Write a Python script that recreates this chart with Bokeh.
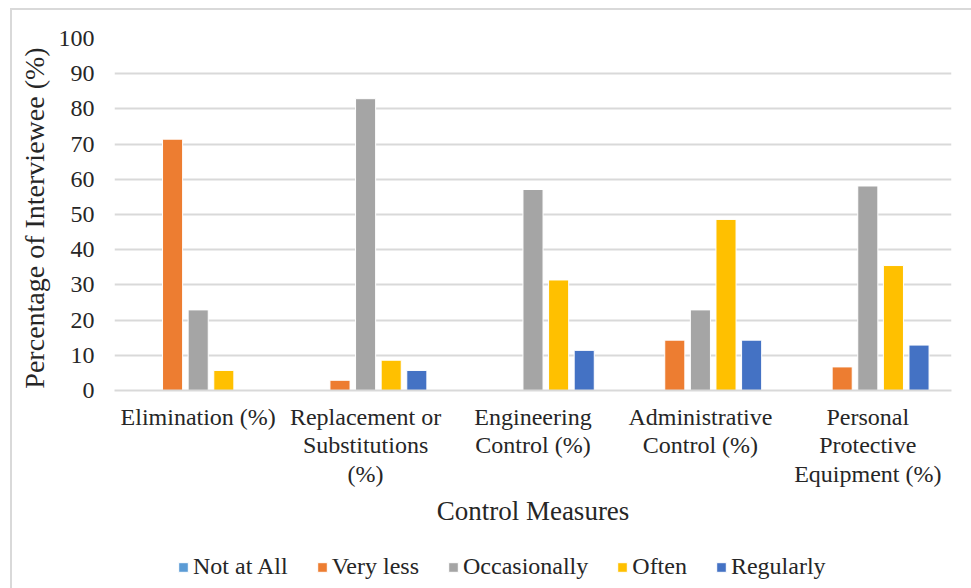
from bokeh.plotting import figure
from bokeh.layouts import column
from bokeh.models import Range1d, FactorRange, Legend, LegendItem, FixedTicker, ColumnDataSource
from bokeh.transform import dodge
from bokeh.embed import file_html
from bokeh.resources import INLINE

categories = ["Elimination (%)", "Replacement or\nSubstitutions\n(%)", "Engineering\nControl (%)",
              "Administrative\nControl (%)", "Personal\nProtective\nEquipment (%)"]
series_names = ["Not at All", "Very less", "Occasionally", "Often", "Regularly"]
not_at_all = [0, 0, 0, 0, 0]
very_less = [71.4, 2.9, 0, 14.3, 6.7]
occasionally = [22.9, 82.9, 57.1, 22.9, 58.1]
often = [5.7, 8.6, 31.4, 48.6, 35.5]
regularly = [0, 5.7, 11.4, 14.3, 12.9]
y_ticks = [0, 10, 20, 30, 40, 50, 60, 70, 80, 90, 100]

colors = ["#5B9BD5", "#ED7D31", "#A5A5A5", "#FFC000", "#4472C4"]
FONT = "Liberation Serif"
TXT = "#262626"
BORDER = "2px solid #d9d9d9"

src = ColumnDataSource(dict(cat=categories, s0=not_at_all, s1=very_less, s2=occasionally,
                            s3=often, s4=regularly))

p = figure(x_range=FactorRange(*categories), y_range=Range1d(0, 100),
           output_backend="svg", toolbar_location=None,
           frame_width=835, frame_height=350,
           min_border_left=102, min_border_right=22, min_border_top=28, min_border_bottom=155)
p.margin = (8, 0, 0, 10)
p.styles = {"border-left": BORDER, "border-top": BORDER}
p.outline_line_color = None
p.x_range.range_padding = 0

pitch = 0.153
for i, col in enumerate(colors):
    p.vbar(x=dodge("cat", (i - 2) * pitch, range=p.x_range), top="s%d" % i, width=0.12,
           source=src, fill_color=col, line_color="white", line_width=1)

p.yaxis.ticker = FixedTicker(ticks=y_ticks)
p.ygrid.grid_line_color = "#d9d9d9"
p.ygrid.grid_line_width = 2
p.xgrid.grid_line_color = None
p.yaxis.axis_line_color = None
p.yaxis.major_tick_line_color = None
p.yaxis.minor_tick_line_color = None
p.xaxis.axis_line_color = "#d9d9d9"
p.xaxis.axis_line_width = 2
p.xaxis.major_tick_line_color = None

for ax in (p.xaxis[0], p.yaxis[0]):
    ax.major_label_text_font = FONT
    ax.major_label_text_font_size = "24px"
    ax.major_label_text_color = TXT
    ax.major_label_text_line_height = 1.1
    ax.axis_label_text_font = FONT
    ax.axis_label_text_font_style = "normal"
    ax.axis_label_text_color = TXT

p.xaxis.axis_label_text_font_size = "27px"
p.yaxis.axis_label_text_font_size = "28px"
p.yaxis.axis_label = "Percentage of Interviewee  (%)"
p.yaxis.major_label_standoff = 14
p.yaxis.axis_label_standoff = 6
p.xaxis.axis_label = "Control Measures"
p.xaxis.major_label_standoff = 7
p.xaxis.axis_label_standoff = 6

can_unalign = "frame_align" in p.properties()

# legend strip (keys only, same series colours)
if can_unalign:
    lg = figure(x_range=Range1d(0, 1), y_range=Range1d(0, 1), x_axis_type=None, y_axis_type=None,
                output_backend="svg", toolbar_location=None,
                frame_width=700, frame_height=1,
                min_border_left=165, min_border_right=96, min_border_top=9, min_border_bottom=0)
    p.frame_align = False
    lg.frame_align = False
    loc = "top_left"
else:
    lg = figure(x_range=Range1d(0, 1), y_range=Range1d(0, 1), x_axis_type=None, y_axis_type=None,
                output_backend="svg", toolbar_location=None,
                frame_width=835, frame_height=1,
                min_border_left=102, min_border_right=22, min_border_top=9, min_border_bottom=0)
    loc = "top_center"
lg.margin = (0, 0, 0, 10)
lg.styles = {"border-left": BORDER}
lg.outline_line_color = None
lg.xgrid.visible = False
lg.ygrid.visible = False
items = []
for name, col in zip(series_names, colors):
    r = lg.vbar(x=[-10], top=[0], width=0.5, fill_color=col, line_color="white", line_width=1)
    items.append(LegendItem(label=name, renderers=[r]))

legend = Legend(items=items, orientation="horizontal", location=loc,
                label_text_font=FONT, label_text_font_size="24px", label_text_color=TXT,
                glyph_width=12, glyph_height=12, label_standoff=4, spacing=28,
                border_line_color=None, background_fill_alpha=0, padding=0, margin=0)
lg.add_layout(legend, "below")

layout = column(p, lg, spacing=0)
open("out.html", "w").write(file_html(layout, INLINE))
